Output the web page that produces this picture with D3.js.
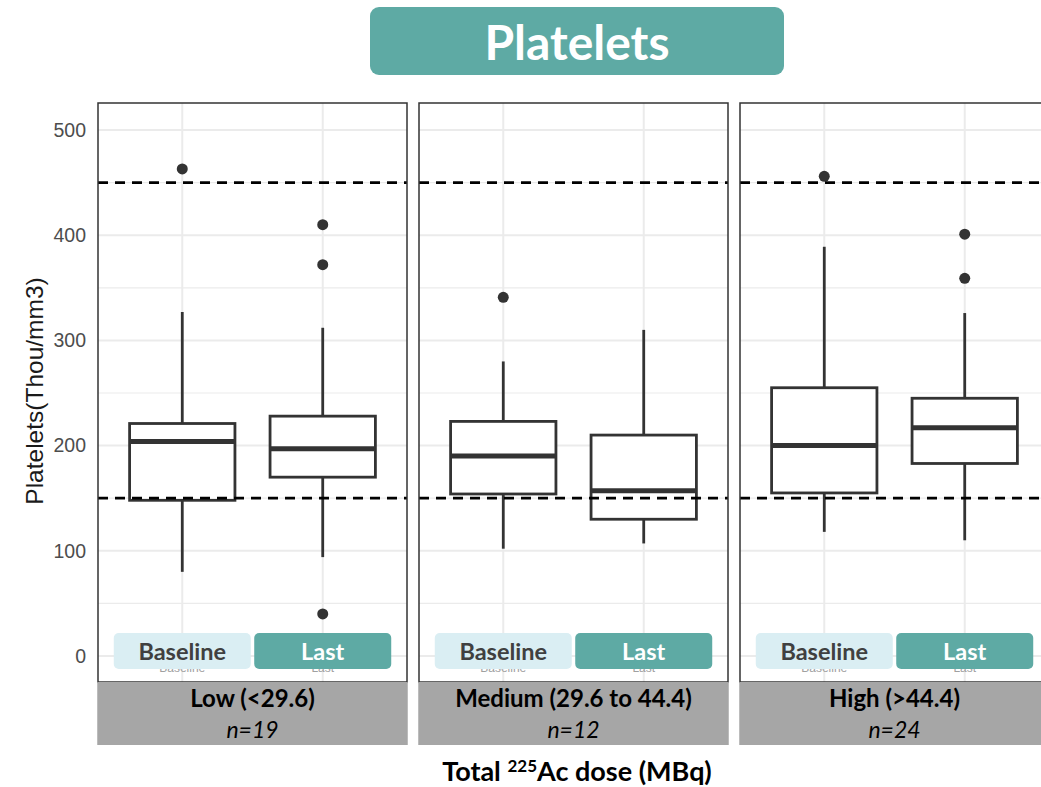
<!DOCTYPE html>
<html>
<head>
<meta charset="utf-8">
<script src="https://cdn.jsdelivr.net/npm/d3@7"></script>
<style>
  body { margin: 0; background: #fff; }
  svg { display: block; }
</style>
</head>
<body>
<script>
// dose groups (facets) and time points
const groups = ["Low (<29.6)", "Medium (29.6 to 44.4)", "High (>44.4)"];
const groupN = ["n=19", "n=12", "n=24"];
const timepoints = ["Baseline", "Last"];

// box stats, one pair [Baseline, Last] per group
const whiskerLow  = [[80, 94],   [102, 107], [118, 110]];
const q1          = [[148, 170], [154, 130], [155, 183]];
const median      = [[204, 197], [190, 157], [200, 217]];
const q3          = [[221, 228], [223, 210], [255, 245]];
const whiskerHigh = [[327, 312], [280, 310], [389, 326]];
const outliers    = [[[463], [410, 372, 40]], [[341], []], [[456], [401, 359]]];

const yTicks = [0, 100, 200, 300, 400, 500];
const yMinor = [50, 150, 250, 350, 450];
const refLines = [150, 450];

const W = 1041, H = 787;
const panelTop = 103, panelBottom = 682, stripBottom = 745;
const calibri = "Lato, 'Open Sans', sans-serif";
const arial = "'Liberation Sans', Arial, sans-serif";
const teal = "#5eaaa4", lightBlue = "#daeef3", ink = "#333333";

const svg = d3.select("body").append("svg")
    .attr("width", W)
    .attr("height", H);

const fx = d3.scaleBand().domain(groups).range([98, 1049]).paddingInner(12 / 321);
const x = d3.scalePoint().domain(timepoints).range([0, fx.bandwidth()]).padding(0.6);
const y = d3.scaleLinear().domain([0, 500]).range([656, 130]);
const boxW = x.step() * 0.75;

// the axis labels peek out only below the badges
svg.append("defs").append("clipPath").attr("id", "below-badge")
    .append("rect")
    .attr("x", 0).attr("y", 669)
    .attr("width", W).attr("height", panelBottom - 669);

// title badge
svg.append("rect")
    .attr("x", 370).attr("y", 7)
    .attr("width", 414).attr("height", 68)
    .attr("rx", 9)
    .style("fill", teal);
svg.append("text")
    .attr("x", 577).attr("y", 60)
    .attr("text-anchor", "middle")
    .style("font-family", calibri)
    .style("font-weight", "bold")
    .style("font-size", "48px")
    .style("fill", "#fff")
    .text("Platelets");

// y axis
const yAxis = svg.append("g")
    .attr("transform", `translate(${fx.range()[0]},0)`)
    .call(d3.axisLeft(y).tickValues(yTicks).tickSize(0).tickPadding(12));
yAxis.select(".domain").remove();
yAxis.selectAll("text")
    .style("font-family", arial)
    .style("font-size", "19.5px")
    .style("fill", "#4d4d4d");

svg.append("text")
    .attr("transform", "translate(43,391) rotate(-90)")
    .attr("text-anchor", "middle")
    .style("font-family", arial)
    .style("font-size", "24.5px")
    .style("fill", "#1a1a1a")
    .text("Platelets(Thou/mm3)");

groups.forEach((g, gi) => {
    const p = svg.append("g").attr("transform", `translate(${fx(g)},0)`);
    const pw = fx.bandwidth();

    // grid
    p.selectAll(".minor").data(yMinor).join("line")
        .attr("x1", 0).attr("x2", pw)
        .attr("y1", d => y(d)).attr("y2", d => y(d))
        .style("stroke", "#ebebeb").style("stroke-width", 1.2);
    p.selectAll(".major").data(yTicks).join("line")
        .attr("x1", 0).attr("x2", pw)
        .attr("y1", d => y(d)).attr("y2", d => y(d))
        .style("stroke", "#ebebeb").style("stroke-width", 2);
    p.selectAll(".vgrid").data(timepoints).join("line")
        .attr("x1", d => x(d)).attr("x2", d => x(d))
        .attr("y1", panelTop).attr("y2", panelBottom)
        .style("stroke", "#ebebeb").style("stroke-width", 2);

    // boxplots
    timepoints.forEach((t, ti) => {
        const cx = x(t);
        p.append("line")
            .attr("x1", cx).attr("x2", cx)
            .attr("y1", y(whiskerHigh[gi][ti])).attr("y2", y(q3[gi][ti]))
            .style("stroke", ink).style("stroke-width", 2.8);
        p.append("line")
            .attr("x1", cx).attr("x2", cx)
            .attr("y1", y(q1[gi][ti])).attr("y2", y(whiskerLow[gi][ti]))
            .style("stroke", ink).style("stroke-width", 2.8);
        p.append("rect")
            .attr("x", cx - boxW / 2).attr("y", y(q3[gi][ti]))
            .attr("width", boxW).attr("height", y(q1[gi][ti]) - y(q3[gi][ti]))
            .style("fill", "#fff").style("stroke", ink).style("stroke-width", 2.8);
        p.append("line")
            .attr("x1", cx - boxW / 2).attr("x2", cx + boxW / 2)
            .attr("y1", y(median[gi][ti])).attr("y2", y(median[gi][ti]))
            .style("stroke", ink).style("stroke-width", 5);
        p.selectAll(".out" + ti).data(outliers[gi][ti]).join("circle")
            .attr("cx", cx).attr("cy", d => y(d))
            .attr("r", 5.5)
            .style("fill", ink);
    });

    // normal range
    p.selectAll(".ref").data(refLines).join("line")
        .attr("x1", 0).attr("x2", pw)
        .attr("y1", d => y(d)).attr("y2", d => y(d))
        .style("stroke", "#000").style("stroke-width", 2.8)
        .style("stroke-dasharray", "10,7");

    // original tick labels, mostly covered by the badges
    p.append("g").attr("clip-path", "url(#below-badge)")
        .selectAll("text").data(timepoints).join("text")
        .attr("x", d => x(d)).attr("y", 672)
        .attr("text-anchor", "middle")
        .style("font-family", arial)
        .style("font-size", "12px")
        .style("fill", "#a0a0a0")
        .text(d => d);

    // time point badges
    timepoints.forEach((t, ti) => {
        p.append("rect")
            .attr("x", x(t) - 68.5).attr("y", 633)
            .attr("width", 137).attr("height", 36)
            .attr("rx", 5)
            .style("fill", ti === 0 ? lightBlue : teal);
        p.append("text")
            .attr("x", x(t)).attr("y", 660)
            .attr("text-anchor", "middle")
            .style("font-family", calibri)
            .style("font-weight", "bold")
            .style("font-size", "23.5px")
            .style("fill", ti === 0 ? "#404040" : "#fff")
            .text(t);
    });

    // panel border
    p.append("rect")
        .attr("x", 0).attr("y", panelTop)
        .attr("width", pw).attr("height", panelBottom - panelTop)
        .style("fill", "none").style("stroke", ink).style("stroke-width", 1.5);

    // strip
    p.append("rect")
        .attr("x", -0.75).attr("y", panelBottom)
        .attr("width", pw + 1.5).attr("height", stripBottom - panelBottom)
        .style("fill", "#a6a6a6");
    p.append("text")
        .attr("x", pw / 2).attr("y", 707)
        .attr("text-anchor", "middle")
        .style("font-family", calibri)
        .style("font-weight", "bold")
        .style("font-size", "24px")
        .style("fill", "#000")
        .text(g);
    p.append("text")
        .attr("x", pw / 2).attr("y", 738)
        .attr("text-anchor", "middle")
        .style("font-family", calibri)
        .style("font-style", "italic")
        .style("font-size", "23px")
        .style("fill", "#000")
        .text(groupN[gi]);
});

// x axis title with superscript
const xt = svg.append("text")
    .attr("x", 577).attr("y", 781)
    .attr("text-anchor", "middle")
    .style("font-family", calibri)
    .style("font-weight", "bold")
    .style("font-size", "27px")
    .style("fill", "#000");
xt.append("tspan").text("Total ");
xt.append("tspan").attr("dy", -9).style("font-size", "17px").text("225");
xt.append("tspan").attr("dy", 9).text("Ac dose (MBq)");
</script>
</body>
</html>
